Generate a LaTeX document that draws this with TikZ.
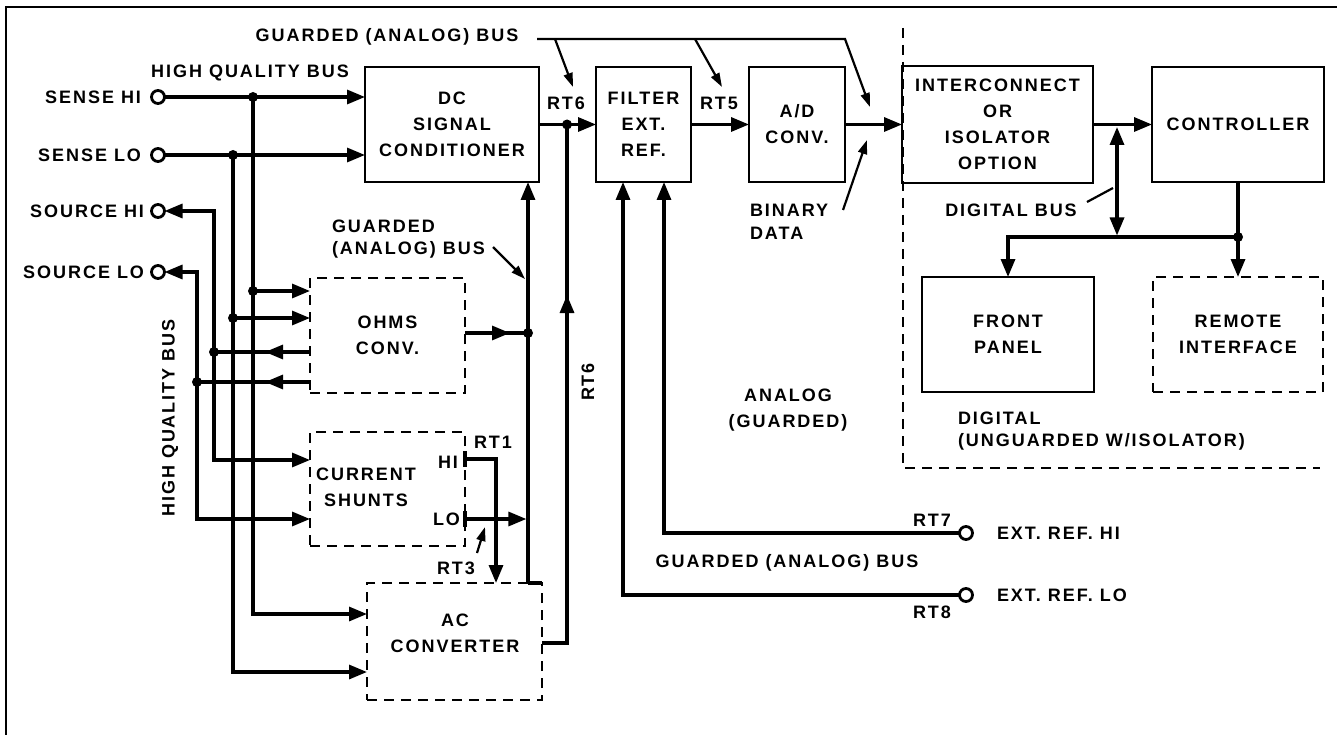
\documentclass[tikz,border=0pt]{standalone}
\usepackage{fontspec}
\setmainfont{Liberation Sans}[LetterSpace=11]
\usetikzlibrary{arrows.meta}
\begin{document}
\begin{tikzpicture}[x=1pt,y=-1pt,
  every node/.style={inner sep=0pt, outer sep=0pt, font=\fontsize{18}{26}\selectfont\bfseries, align=center},
  tight/.style={font=\fontsize{18}{22.5}\selectfont\bfseries},
  blk/.style={draw, line width=2.8pt},
  dblk/.style={draw, line width=2.4pt, dash pattern=on 10pt off 7pt},
  wr/.style={line width=3.2pt},
  warr/.style={wr, -{Triangle[length=18pt,width=14pt]}},
  wboth/.style={wr, {Triangle[length=18pt,width=14pt]}-{Triangle[length=18pt,width=14pt]}},
  lead/.style={line width=2.2pt, -{Triangle[length=14pt,width=9pt]}},
  leadline/.style={line width=2.2pt},
  jdot/.style={circle, fill, minimum size=10pt},
  termc/.style={circle, draw, line width=2.8pt, fill=white, minimum size=13pt},
  dsh/.style={line width=2.4pt, dash pattern=on 10pt off 7pt},
]
\useasboundingbox (0,0) rectangle (1337,735);
% frame
\draw[line width=2.2pt] (6,735) -- (6,7) -- (1337,7);

% blocks
\node[blk, minimum width=174pt, minimum height=115pt] (dc) at (452,124.5) {DC\\SIGNAL\\CONDITIONER};
\node[blk, minimum width=95pt, minimum height=115pt] (filt) at (643.5,124.5) {FILTER\\EXT.\\REF.};
\node[blk, minimum width=96pt, minimum height=115pt] (ad) at (797,124.5) {A/D\\CONV.};
\node[blk, minimum width=191pt, minimum height=117pt] (ic) at (997.5,124.5) {INTERCONNECT\\OR\\ISOLATOR\\OPTION};
\node[blk, minimum width=172pt, minimum height=115pt] (ctl) at (1238,124.5) {CONTROLLER};
\node[blk, minimum width=172pt, minimum height=115pt] (fp) at (1008,334.5) {FRONT\\PANEL};
\node[dblk, minimum width=170pt, minimum height=115pt] (ri) at (1238,334.5) {REMOTE\\INTERFACE};
\node[dblk, minimum width=155pt, minimum height=115pt] (ohm) at (387.5,335.5) {OHMS\\CONV.};
\node[dblk, minimum width=155pt, minimum height=114pt] (sh) at (387.5,489) {};
\node (shtxt) at (366,487) {CURRENT\\SHUNTS};
\node[dblk, minimum width=175pt, minimum height=117pt] (ac) at (454.5,641.5) {};
\node (actxt) at (455,633) {AC\\CONVERTER};

% terminals
\node[termc] (shi) at (158,97) {};
\node[termc] (slo) at (158,155) {};
\node[termc] (sohi) at (158,211) {};
\node[termc] (solo) at (158,272) {};
\node[termc] (erhi) at (966,533) {};
\node[termc] (erlo) at (966,595) {};
\node[anchor=east] (shil) at (141,97) {SENSE HI};
\node[anchor=east] (slol) at (141,155) {SENSE LO};
\node[anchor=east] (sohil) at (144,211) {SOURCE HI};
\node[anchor=east] (solol) at (144,272) {SOURCE LO};
\node[anchor=west] (erhil) at (997,533) {EXT. REF. HI};
\node[anchor=west] (erlol) at (997,595) {EXT. REF. LO};

% ports
\coordinate (ohA) at (310,291);
\coordinate (ohB) at (310,318);
\coordinate (ohC) at (310,352);
\coordinate (ohD) at (310,382);
\coordinate (ohO) at (465,333);
\coordinate (shA) at (310,460);
\coordinate (shB) at (310,519);
\coordinate (shH) at (465,459);
\coordinate (shL) at (465,519);
\coordinate (acA) at (367,614);
\coordinate (acB) at (367,672);
\coordinate (acO) at (542,643);
\coordinate (acT) at (496,583);
\coordinate (acC) at (528,583);
\coordinate (dcB) at (528,182);
\coordinate (fB1) at (623,182);
\coordinate (fB2) at (664,182);
\coordinate (vLo) at (526.4,519);

% junctions
\node[jdot] (j1) at (253,97) {};
\node[jdot] (j6) at (233,155) {};
\node[jdot] (j2) at (253,291) {};
\node[jdot] (j3) at (233,318) {};
\node[jdot] (j4) at (214,352) {};
\node[jdot] (j5) at (197,382) {};
\node[jdot] (j7) at (528,333) {};
\node[jdot] (j8) at (567,124.5) {};
\node[jdot] (j9) at (1238,237) {};

% input wiring
\draw[warr] (shi) -- (dc.west |- shi);
\draw[warr] (slo) -- (dc.west |- slo);
\draw[warr] (j1.center) |- (acA);
\draw[warr] (j6.center) |- (acB);
\draw[wboth] (sohi) -- (214,211) |- (shA);
\draw[wboth] (solo) -- (197,272) |- (shB);
\draw[warr] (j2.center) -- (ohA);
\draw[warr] (j3.center) -- (ohB);
\draw[wr] (ohC) -- (j4.center); \draw[warr] (ohC) -- (265,352);
\draw[wr] (ohD) -- (j5.center); \draw[warr] (ohD) -- (265,382);
\draw[wr] (ohO) -- (j7.center); \draw[warr] (ohO) -- (510,333);
\draw[warr] (acC) -- (dcB);
\draw[wr] (acC) -- (ac.north east);
\draw[wr] (acO) -| (j8.center);
\draw[warr] (567,340) -- (567,295);
\draw[warr] (shH) -| (acT);
\draw[warr] (shL) -- (vLo);
\draw[wr] (465,451) -- (465,467);
\draw[wr] (465,511) -- (465,527);

% main chain
\draw[warr] (dc.east) -- (filt.west);
\draw[warr] (filt.east) -- (ad.west);
\draw[warr] (ad.east) -- (ic.west);
\draw[warr] (ic.east) -- (ctl.west);
\draw[wboth] (1117,127) -- (1117,235.5);
\draw[wr] (ctl.south) -- (j9.center);
\draw[warr] (j9.center) -- (ri.north);
\draw[warr] (j9.center) -| (fp.north);
\draw[warr] (erlo) -| (fB1);
\draw[warr] (erhi) -| (fB2);

% boundary
\draw[dsh] (903,28) -- (903,468) -- (1320,468);

% labels
\node (gbt) at (387,37) {GUARDED (ANALOG) BUS};
\coordinate (gb0) at (537,39);
\coordinate (gb1) at (845,39);
\draw[lead] (gb0) -- (gb1) -- (870,107);
\draw[lead] (555,39) -- (573,87);
\draw[lead] (695,39) -- (722,87);
\node[anchor=west, align=left, tight] (bin) at (750,222) {BINARY\\DATA};
\draw[lead] (843,210) -- (867,140);
\node[anchor=west, align=left, tight] (gbm) at (332,239) {GUARDED\\(ANALOG) BUS};
\draw[lead] (493,247) -- (525,279);
\node (hqb) at (250,73) {HIGH QUALITY BUS};
\node[rotate=90] (hqb2) at (170,418) {HIGH QUALITY BUS};
\node[rotate=90] (rt6b) at (588,382) {RT6};
\node (rt6) at (566,103) {RT6};
\node (rt5) at (719,103) {RT5};
\node (rt1) at (493,442) {RT1};
\node (rt3) at (456,568) {RT3};
\draw[lead] (477,553) -- (485,527);
\node (rt7) at (932,520) {RT7};
\node (rt8) at (932,612) {RT8};
\node[anchor=east] (hil) at (458,462) {HI};
\node[anchor=east] (lol) at (460,519) {LO};
\node (gbb) at (787,563) {GUARDED (ANALOG) BUS};
\node (ang) at (788,410) {ANALOG\\(GUARDED)};
\node[anchor=west, align=left, tight] (dig) at (958,431) {DIGITAL\\(UNGUARDED W/ISOLATOR)};
\node (dbus) at (1011,210) {DIGITAL BUS};
\draw[leadline] (1087,202) -- (1113,188);
\end{tikzpicture}
\end{document}
